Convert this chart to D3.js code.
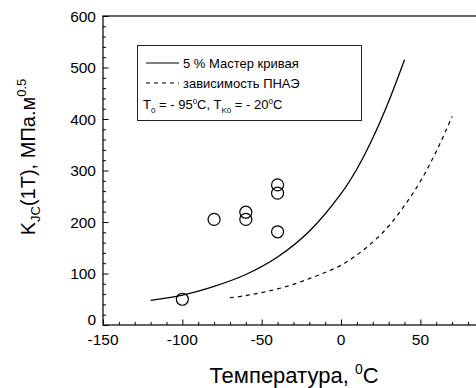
<!DOCTYPE html>
<html>
<head>
<meta charset="utf-8">
<script src="https://cdn.jsdelivr.net/npm/d3@7"></script>
<style>
  body { margin: 0; background: #fff; }
  svg { display: block; font-family: "Liberation Sans", Arial, sans-serif; }
</style>
</head>
<body>
<div id="chart"></div>
<script>
// Data
const masterT = [-120, -100, -80, -60, -40, -20, 0, 10, 20, 30, 40];
const masterK = [48, 58, 75, 98, 132, 182, 255, 303, 363, 434, 515];

const pnaeT = [-70, -60, -50, -40, -30, -20, -10, 0, 10, 20, 30, 40, 50, 60, 70];
const pnaeK = [53, 57, 63, 70, 79, 90, 102, 116, 136, 161, 192, 232, 279, 337, 405];

const testT = [-100, -80, -60, -60, -40, -40, -40];
const testK = [50, 205, 219, 205, 272, 256, 181];

const xTicks = [-150, -100, -50, 0, 50];
const yTicks = [0, 100, 200, 300, 400, 500, 600];

const W = 476, H = 388;
const MARGIN = { LEFT: 103, TOP: 16, BOTTOM: 63 };

const svg = d3.select("#chart").append("svg")
    .attr("width", W)
    .attr("height", H);

const x = d3.scaleLinear().domain([-150, 100]).range([MARGIN.LEFT, MARGIN.LEFT + 250 * 1.587]);
const y = d3.scaleLinear().domain([0, 600]).range([H - MARGIN.BOTTOM, MARGIN.TOP]);

// frame (right side falls outside the picture)
svg.append("rect")
    .attr("x", x(-150)).attr("y", y(600))
    .attr("width", x(100) - x(-150)).attr("height", y(0) - y(600))
    .attr("fill", "none").attr("stroke", "#000").attr("stroke-width", 1.2);

// axes with inward ticks
const xAxis = svg.append("g").attr("transform", `translate(0, ${y(0)})`);
xAxis.call(d3.axisBottom(x).tickValues(d3.range(-150, 101, 10)).tickSize(-3).tickFormat(""))
    .call(g => g.select(".domain").remove());
xAxis.selectAll(".tick line").filter(d => d % 50 === 0).attr("y2", -5.5);

svg.append("g").selectAll("text").data(xTicks).join("text")
    .attr("x", d => x(d)).attr("y", y(0) + 20)
    .attr("text-anchor", "middle")
    .style("font-size", "15.5px")
    .text(d => d);

const yAxis = svg.append("g").attr("transform", `translate(${x(-150)}, 0)`);
yAxis.call(d3.axisLeft(y).tickValues(d3.range(0, 601, 20)).tickSize(-3).tickFormat(""))
    .call(g => g.select(".domain").remove());
yAxis.selectAll(".tick line").filter(d => d % 100 === 0).attr("x2", 5.5);

svg.append("g").selectAll("text").data(yTicks).join("text")
    .attr("x", x(-150) - 7).attr("y", d => y(d) + (d === 0 ? 0 : 5.5))
    .attr("text-anchor", "end")
    .style("font-size", "15.5px")
    .text(d => d);

// curves
const line = d3.line().x(d => x(d[0])).y(d => y(d[1])).curve(d3.curveCatmullRom);

svg.append("path")
    .datum(d3.zip(masterT, masterK))
    .attr("d", line)
    .attr("fill", "none").attr("stroke", "#000").attr("stroke-width", 1.3);

svg.append("path")
    .datum(d3.zip(pnaeT, pnaeK))
    .attr("d", line)
    .attr("fill", "none").attr("stroke", "#000").attr("stroke-width", 1.2)
    .attr("stroke-dasharray", "4,4");

// test points
svg.append("g").selectAll("circle")
    .data(d3.zip(testT, testK))
    .join("circle")
    .attr("cx", d => x(d[0])).attr("cy", d => y(d[1]))
    .attr("r", 6)
    .attr("fill", "none").attr("stroke", "#000").attr("stroke-width", 1.2);

// legend
const lg = svg.append("g");
lg.append("rect")
    .attr("x", 137.5).attr("y", 45.5).attr("width", 224).attr("height", 75)
    .attr("fill", "#fff").attr("stroke", "#222").attr("stroke-width", 1);
lg.append("line").attr("x1", 146).attr("x2", 179).attr("y1", 63).attr("y2", 63)
    .attr("stroke", "#000").attr("stroke-width", 1.2);
lg.append("line").attr("x1", 146).attr("x2", 179).attr("y1", 83).attr("y2", 83)
    .attr("stroke", "#000").attr("stroke-width", 1.2).attr("stroke-dasharray", "4,4");
lg.append("text").attr("x", 183).attr("y", 68).style("font-size", "13px").text("5 % Мастер кривая");
lg.append("text").attr("x", 183).attr("y", 88).style("font-size", "13px").text("зависимость ПНАЭ");

const t3 = lg.append("text").attr("x", 143).attr("y", 109).style("font-size", "13px");
t3.append("tspan").text("T");
t3.append("tspan").attr("dy", 4).style("font-size", "8px").text("0");
t3.append("tspan").attr("dy", -4).text(" = - 95");
t3.append("tspan").attr("dy", -5).style("font-size", "8px").text("0");
t3.append("tspan").attr("dy", 5).text("C, T");
t3.append("tspan").attr("dy", 4).style("font-size", "8px").text("K0");
t3.append("tspan").attr("dy", -4).text(" = - 20");
t3.append("tspan").attr("dy", -5).style("font-size", "8px").text("0");
t3.append("tspan").attr("dy", 5).text("C");

// axis titles
const xt = svg.append("text")
    .attr("x", 294).attr("y", 383)
    .attr("text-anchor", "middle")
    .style("font-size", "22px");
xt.append("tspan").text("Температура, ");
xt.append("tspan").attr("dy", -9).style("font-size", "14px").text("0");
xt.append("tspan").attr("dy", 9).text("C");

const yt = svg.append("text")
    .attr("transform", "translate(35, 157) rotate(-90)")
    .attr("text-anchor", "middle")
    .style("font-size", "20px");
yt.append("tspan").text("K");
yt.append("tspan").attr("dy", 5).style("font-size", "13px").text("JC");
yt.append("tspan").attr("dy", -5).text("(1T), МПа.м");
yt.append("tspan").attr("dy", -9).style("font-size", "13px").text("0.5");
</script>
</body>
</html>
